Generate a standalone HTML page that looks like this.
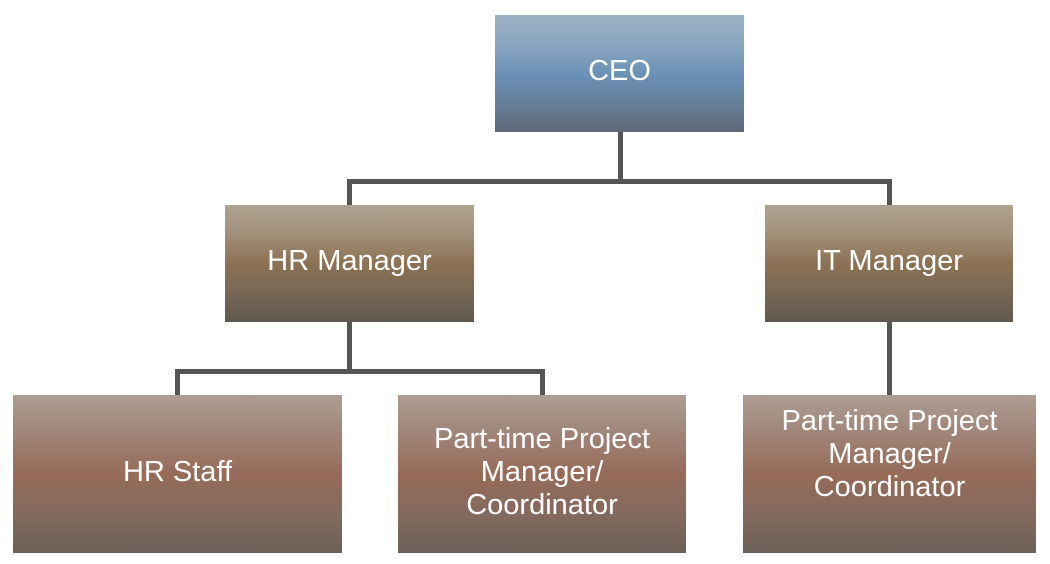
<!DOCTYPE html>
<html><head><meta charset="utf-8"><style>
body{margin:0;width:1050px;height:564px;background:#fff;position:relative;overflow:hidden;font-family:"Liberation Sans",sans-serif}
.b{position:absolute;color:#fff;font-size:29px;text-align:center;display:flex;align-items:center;justify-content:center;line-height:33px;box-sizing:border-box;padding-bottom:4px}
.ceo{background:linear-gradient(#9cb0c4 0%,#8ba6c1 25%,#6b92b7 50%,#667f99 75%,#5e6978 100%)}
.mgr{background:linear-gradient(#afa391 0%,#a2907a 25%,#8c7253 50%,#776754 75%,#5f5850 100%)}
.st{background:linear-gradient(#ad9d92 0%,#a08478 25%,#976b58 50%,#846a5e 75%,#6b6058 100%)}
.l{position:absolute;background:#555}
</style></head><body>
<div class="l" style="left:618px;top:132px;width:5px;height:52px"></div>
<div class="l" style="left:347px;top:179px;width:545px;height:5px"></div>
<div class="l" style="left:347px;top:179px;width:5px;height:26px"></div>
<div class="l" style="left:887px;top:179px;width:5px;height:26px"></div>
<div class="l" style="left:347px;top:322px;width:5px;height:52px"></div>
<div class="l" style="left:175px;top:369px;width:370px;height:5px"></div>
<div class="l" style="left:175px;top:369px;width:5px;height:26px"></div>
<div class="l" style="left:540px;top:369px;width:5px;height:26px"></div>
<div class="l" style="left:887px;top:322px;width:5px;height:73px"></div>
<div class="b ceo" style="left:495px;top:15px;width:249px;height:117px">CEO</div>
<div class="b mgr" style="left:225px;top:205px;width:249px;height:117px">HR Manager</div>
<div class="b mgr" style="left:765px;top:205px;width:248px;height:117px">IT Manager</div>
<div class="b st" style="left:13px;top:395px;width:329px;height:158px">HR Staff</div>
<div class="b st" style="left:398px;top:395px;width:288px;height:158px">Part-time Project<br>Manager/<br>Coordinator</div>
<div class="b st" style="left:743px;top:395px;width:293px;height:158px;align-items:flex-start;padding-top:10px">Part-time Project<br>Manager/<br>Coordinator</div>
</body></html>
